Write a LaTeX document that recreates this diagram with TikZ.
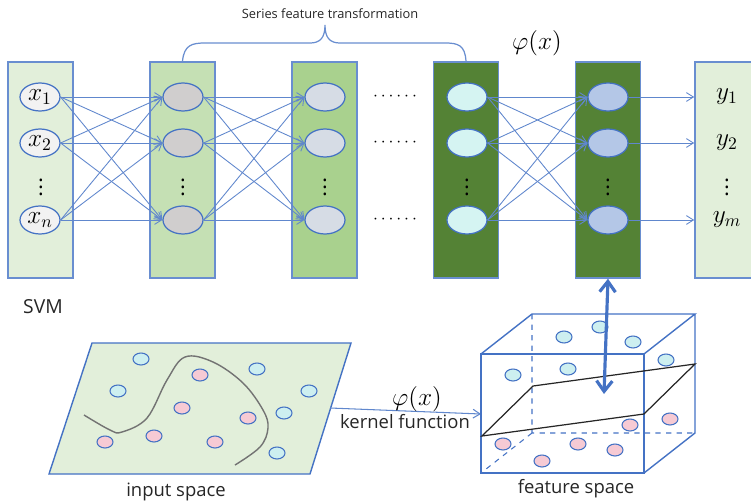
\documentclass[tikz,border=0pt]{standalone}
\usepackage{fontspec}
\setmainfont{Open Sans}
\usetikzlibrary{arrows.meta,shapes.geometric}
\definecolor{lineblue}{HTML}{4472C4}
\definecolor{green0}{HTML}{E2EFDA}
\definecolor{green1}{HTML}{C5E0B4}
\definecolor{green2}{HTML}{A9D18E}
\definecolor{green3}{HTML}{548235}
\definecolor{unit0}{HTML}{F2F2F2}
\definecolor{unit1}{HTML}{D0CECE}
\definecolor{unit2}{HTML}{D6DCE5}
\definecolor{unit3}{HTML}{D5F4F2}
\definecolor{unit4}{HTML}{B4C7E7}
\definecolor{ptblue}{HTML}{CDEFF0}
\definecolor{ptpink}{HTML}{F6CAD4}
\definecolor{txt}{HTML}{262626}
\tikzset{
  layer/.style={draw=lineblue!80, line width=0.9pt, minimum width=1.3cm, minimum height=4.32cm, inner sep=0pt},
  unit/.style={ellipse, draw=lineblue, line width=0.7pt, minimum width=0.8cm, minimum height=0.56cm, inner sep=0pt},
  link/.style={draw=lineblue!85, line width=0.5pt, -{Straight Barb[length=4pt,width=5pt]}},
  dot/.style={ellipse, draw=lineblue, line width=0.6pt, minimum width=0.32cm, minimum height=0.24cm, inner sep=0pt},
  label/.style={text=txt, font=\fontsize{10.5}{12}\selectfont},
}

\begin{document}
\begin{tikzpicture}[x=0.02cm, y=-0.02cm]
  \useasboundingbox (0,0) rectangle (751,501);
  \node[layer, fill=green0] (lay0) at (40.5,170) {};
  \node[layer, fill=green1] (lay1) at (182.5,170) {};
  \node[layer, fill=green2] (lay2) at (324.5,170) {};
  \node[layer, fill=green3] (lay3) at (466,170) {};
  \node[layer, fill=green3] (lay4) at (608,170) {};
  \node[layer, fill=green0] (out) at (727.5,170) {};
  \node[unit, fill=unit0, font=\Large] (n0-1) at (40,97) {$x_1$};
  \node[unit, fill=unit0, font=\Large] (n0-2) at (40,143) {$x_2$};
  \node[unit, fill=unit0, font=\Large] (n0-3) at (40,220) {$x_n$};
  \foreach \l/\x/\c in {1/183/unit1, 2/325/unit2, 3/467/unit3, 4/608/unit4}
    \foreach \j/\y in {1/97, 2/143, 3/220}
      \node[unit, fill=\c] (n\l-\j) at (\x,\y) {};
  \foreach \x in {41, 183, 325, 467, 608, 727}
    \node[font=\large, inner sep=0pt] at (\x,182) {$\vdots$};
  \foreach \j/\y in {1/97, 2/143, 3/220}
    \node[inner sep=0pt] (hd\j) at (395,\y) {$\cdots\cdots$};
  \node[font=\Large] (y1) at (727,97) {$y_1$};
  \node[font=\Large] (y2) at (727,143) {$y_2$};
  \node[font=\Large] (y3) at (727,220) {$y_m$};
  \foreach \a/\b in {0/1, 1/2, 3/4}
    \foreach \i in {1,2,3}
      \foreach \k in {1,2,3}
        \draw[link] (n\a-\i.east) -- (n\b-\k.west);
  \foreach \i in {1,2,3}
    \draw[link] (n4-\i.east) -- (n4-\i.east -| out.west);
  \node[font=\fontsize{14}{16}\selectfont] (phi) at (537,43) {$\varphi(x)$};
  \node[text=txt, font=\fontsize{7.3}{9}\selectfont] (series) at (330,14) {Series feature transformation};
  \draw[lineblue!80, line width=0.7pt] (lay1.north) .. controls (184,45) and (192,43) .. (205,43)
    -- (310,43) .. controls (320,43) and (325,38) .. (325,25)
    .. controls (325,38) and (330,43) .. (340,43)
    -- (445,43) .. controls (458,43) and (465,45) .. (lay3.north);
  \node[text=txt, font=\fontsize{11}{13}\selectfont] (svm) at (43,307) {SVM};
  \draw[lineblue, line width=0.8pt, fill=green0] (92,343) -- (351,343) -- (310,474) -- (49,474) -- cycle;
  \draw[gray!90!black, line width=0.8pt] plot[smooth, tension=0.6] coordinates
    {(84,415) (110,430) (122,432) (147,418) (167,380) (185,357) (213,362) (243,383) (263,410) (268,428) (260,447) (235,465)};
  \foreach \x/\y in {141/359, 118/391, 257/369, 309/391, 284/413, 277/453}
    \node[dot, fill=ptblue] at (\x,\y) {};
  \foreach \x/\y in {200/375, 182/408, 248/418, 154/436, 105/442, 215/442}
    \node[dot, fill=ptpink] at (\x,\y) {};
  \node[label] (inspace) at (176,492) {input space};
  \coordinate (kfrom) at (330,408);
  \coordinate (kto) at (481,414);
  \draw[link, line width=0.6pt] (kfrom) -- (kto);
  \node[font=\fontsize{14}{16}\selectfont] (kphi) at (417,399) {$\varphi(x)$};
  \node[label] (kernel) at (405,422) {kernel function};
  \draw[lineblue, line width=0.8pt] (481,354) rectangle (644,473);
  \draw[lineblue, line width=0.8pt] (481,354) -- (532,314) -- (695,314) -- (644,354)
    (695,314) -- (695,433) -- (644,473);
  \draw[lineblue, line width=0.6pt, dashed] (532,314) -- (532,433) -- (695,433) (532,433) -- (481,473);
  \foreach \x/\y in {564/337, 600/327, 633/342, 513/375, 568/369, 666/360}
    \node[dot, fill=ptblue] at (\x,\y) {};
  \draw[black!85, line width=0.7pt] (482,436) -- (533,386) -- (695,364) -- (644,414) -- cycle;
  \foreach \x/\y in {630/425, 670/419, 503/444, 578/444, 615/450, 542/461}
    \node[dot, fill=ptpink] at (\x,\y) {};
  \coordinate (plane) at (604,394);
  \draw[lineblue, line width=1.8pt, {Straight Barb[length=6pt,width=9pt]}-{Straight Barb[length=6pt,width=9pt]}] (lay4.south) -- (plane);
  \node[label] (fspace) at (576,489) {feature space};
\end{tikzpicture}
\end{document}
